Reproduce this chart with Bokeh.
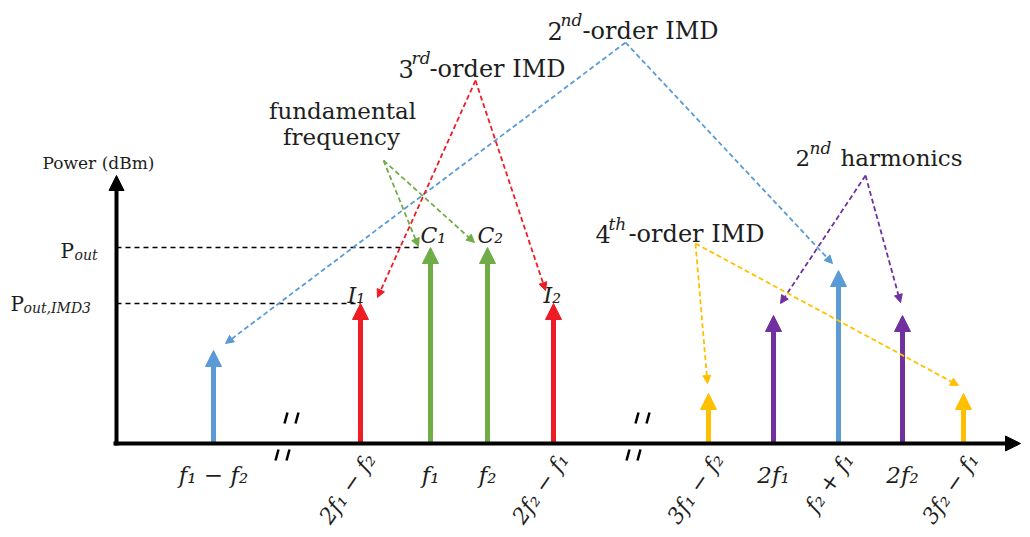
import math
from bokeh.plotting import figure
from bokeh.models import Range1d, Arrow, NormalHead
from bokeh.embed import file_html
from bokeh.resources import INLINE
from bokeh.core.properties import value

# ---------------- data ----------------
tone_labels = ["f₁ − f₂", "2f₁ − f₂", "f₁", "f₂", "2f₂ − f₁",
               "3f₁ − f₂", "2f₁", "f₂ + f₁", "2f₂", "3f₂ − f₁"]
tone_freq = [97, 244, 314, 371, 437, 592, 657, 722, 786, 847]      # position on frequency axis
tone_power = [93, 140, 196, 196, 140, 50, 128, 173, 128, 50]        # power level
tone_group = ["imd2", "imd3", "fund", "fund", "imd3", "imd4", "harm2", "imd2", "harm2", "imd4"]
tone_rotated = [False, True, False, False, True, True, False, True, False, True]
tone_names = ["", "I₁", "C₁", "C₂", "I₂", "", "", "", "", ""]

p_out_level = 196
p_imd3_level = 140
axis_breaks = [171, 522]

group_colors = {"imd2": "#5B9BD5", "imd3": "#EE1C25", "fund": "#70AD47",
                "imd4": "#FFC000", "harm2": "#7030A0"}

FONT = "DejaVu Serif"
TXT = "#1e1e1e"

# ---------------- figure ----------------
W, H = 1022, 535
p = figure(width=W, height=H, x_range=Range1d(-116, 906), y_range=Range1d(-92, 443),
           output_backend="svg", toolbar_location=None, min_border=0,
           x_axis_location=None, y_axis_location=None)
p.grid.visible = False
p.outline_line_color = None
p.background_fill_color = "white"


def sx(x):
    return x - 116


def sy(y):
    return 443 - y


def txt(x, y, s, size, italic=False, align="left", baseline="alphabetic", angle=0.0, color=TXT):
    p.text(x=[x], y=[y], text=[s], text_font=value(FONT), text_font_size=f"{size}px",
           text_font_style="italic" if italic else "normal", text_align=align,
           text_baseline=baseline, angle=angle, text_color=color)


def arrow(x0, y0, x1, y1, color, width, head, dash="solid"):
    p.add_layout(Arrow(end=NormalHead(size=head, fill_color=color, line_color=color, line_width=1),
                       x_start=x0, y_start=y0, x_end=x1, y_end=y1,
                       line_color=color, line_width=width, line_dash=dash))


# reference level dashed lines
f1_x = tone_freq[tone_labels.index("f₁")]
i1_x = tone_freq[tone_labels.index("2f₁ − f₂")]
p.line([0, f1_x - 10], [p_out_level, p_out_level], line_color="black", line_width=1.6, line_dash="5 4")
p.line([0, i1_x], [p_imd3_level, p_imd3_level], line_color="black", line_width=1.6, line_dash="5 4")

# stems
for x, h, g in zip(tone_freq, tone_power, tone_group):
    arrow(x, 0, x, h, group_colors[g], 5, 16)

# axes
arrow(0, -2, 0, 268, "black", 4, 15)
arrow(-3, 0, 904, 0, "black", 4, 15)

# axis breaks
for bx in axis_breaks:
    for dx in (0, 11):
        p.segment(x0=[bx - 3 + dx], y0=[20], x1=[bx + dx], y1=[31], line_color="black", line_width=2.5)
        p.segment(x0=[bx - 12 + dx], y0=[-17], x1=[bx - 9 + dx], y1=[-6], line_color="black", line_width=2.5)

# tick labels
for x, lab, rot in zip(tone_freq, tone_labels, tone_rotated):
    if rot:
        txt(x + 10, -12, lab, 22, italic=True, align="right", baseline="middle", angle=math.radians(55))
    else:
        txt(x, -31, lab, 23, italic=True, align="center")

# tone names (I1, C1, C2, I2)
name_pos = {"I₁": (sx(347), sy(295)), "I₂": (sx(543), sy(295)),
            "C₁": (sx(420), sy(235)), "C₂": (sx(477), sy(235))}
for nm in tone_names:
    if nm:
        x, y = name_pos[nm]
        txt(x, y, nm, 22, italic=True)

# y-axis labels
txt(sx(42), sy(162), "Power (dBm)", 17)
txt(sx(60), sy(250), "P", 20)
txt(sx(74), sy(254), "out", 14, italic=True)
txt(sx(10), sy(303), "P", 20)
txt(sx(23), sy(307), "out,IMD3", 14, italic=True)

# callouts
callouts = {
    "imd2": dict(apex=(sx(625), sy(42)), offs=[(12, 7), (-6, 7)]),
    "imd3": dict(apex=(sx(475), sy(80)), offs=[(17, 6), (-8, 13)]),
    "fund": dict(apex=(sx(383), sy(160)), offs=[(-12, 1), (-13, 5)]),
    "harm2": dict(apex=(sx(865), sy(175)), offs=[(7, 12), (-2, 13)]),
    "imd4": dict(apex=(sx(695), sy(243)), offs=[(-1, 10), (-5, 8)]),
}
for g, c in callouts.items():
    idx = [i for i, gg in enumerate(tone_group) if gg == g]
    ax, ay = c["apex"]
    for i, (dx, dy) in zip(idx, c["offs"]):
        arrow(ax, ay, tone_freq[i] + dx, tone_power[i] + dy, group_colors[g], 1.8, 8, dash="5 3")

# callout titles
txt(sx(547), sy(30), "2", 24)
txt(sx(560), sy(19), "nd", 17, italic=True)
txt(sx(582), sy(30), "-order IMD", 24)

txt(sx(398), sy(68), "3", 24)
txt(sx(411), sy(57), "rd", 17, italic=True)
txt(sx(429), sy(68), "-order IMD", 24)

txt(sx(342), sy(110), "fundamental", 23, align="center")
txt(sx(341), sy(136), "frequency", 23, align="center")

txt(sx(795), sy(157), "2", 23)
txt(sx(809), sy(147), "nd", 17, italic=True)
txt(sx(840), sy(157), "harmonics", 23)

txt(sx(595), sy(233), "4", 24)
txt(sx(608), sy(223), "th", 17, italic=True)
txt(sx(628), sy(233), "-order IMD", 24)

open("out.html", "w").write(file_html(p, INLINE))
